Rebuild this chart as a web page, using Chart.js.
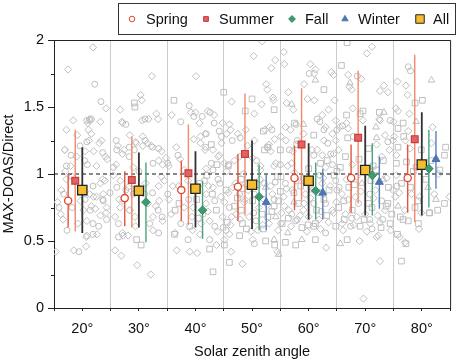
<!DOCTYPE html>
<html>
<head>
<meta charset="utf-8">
<script src="https://cdn.jsdelivr.net/npm/chart.js@4.4.1/dist/chart.umd.min.js"></script>
<style>
html, body { margin: 0; padding: 0; background: #fff; }
canvas { display: block; }
</style>
</head>
<body>
<canvas id="chart" width="458" height="363"></canvas>
<script>
// solar zenith angle bins
const bins = [20, 30, 40, 50, 60, 70, 80];
const yTickVals = [0, 0.5, 1, 1.5, 2];

// ratio per season: mean, low end, high end of the bar (null = no data)
const springMean = [0.80, 0.82, 0.88, 0.905, 0.97, 0.97, 0.97];
const springLow  = [0.60, 0.61, 0.65, 0.65, 0.73, 0.71, 0.71];
const springHigh = [1.00, 1.02, 1.10, 1.15, 1.21, 1.22, 1.22];

const summerMean = [0.95, 0.955, 1.005, 1.15, 1.22, 1.27, 1.26];
const summerLow  = [0.57, 0.60, 0.62, 0.69, 0.80, 0.78, 0.64];
const summerHigh = [1.33, 1.28, 1.37, 1.60, 1.64, 1.77, 1.89];

const fallMean = [null, 0.79, 0.73, 0.83, 0.875, 0.99, 1.04];
const fallLow  = [null, 0.49, 0.515, 0.58, 0.66, 0.69, 0.75];
const fallHigh = [null, 1.085, 0.945, 1.07, 1.085, 1.23, 1.33];

const winterMean = [null, null, null, 0.79, 0.86, 0.94, 1.11];
const winterLow  = [null, null, null, 0.58, 0.66, 0.74, 0.89];
const winterHigh = [null, null, null, 1.00, 1.04, 1.13, 1.32];

const allMean = [0.88, 0.875, 0.89, 0.92, 0.95, 1.03, 1.07];
const allLow  = [0.56, 0.60, 0.60, 0.59, 0.66, 0.69, 0.69];
const allHigh = [1.20, 1.16, 1.17, 1.25, 1.23, 1.36, 1.46];

// individual points in the background [sza, ratio]
const springPts = [[22.2,1.67],[23.3,1.54],[37.4,1.39],[20.8,1.40],[21.6,1.41],[27.7,1.37],[31.1,1.41],[20.8,1.24],[19.6,1.21],[18.0,1.14],[20.4,1.10],[23.6,1.16],[20.9,1.07],[26.1,1.18],[28.3,1.20],[31.1,1.25],[29.2,1.18],[33.5,1.19],[25.5,1.05],[32.5,1.08],[35.1,1.08],[36.9,1.14],
  [60.1,1.75],[61.5,1.41],[38.9,1.51],[39.7,1.43],[41.2,1.43],[42.6,1.46],[43.3,1.38],[44.2,1.32],[41.9,1.30],[47.9,1.27],[53.5,1.33],[57.8,1.37],[41.8,1.20],[46.5,1.25],[45.9,1.07],[52.7,1.20],[56.6,1.18],[60.9,1.14],[43.1,1.03],[50.8,1.10],[55.0,1.07],
  [68.6,1.73],[77.6,1.80],[78.0,1.77],[62.0,1.39],[74.4,1.40],[62.7,1.33],[66.0,1.36],[67.9,1.28],[63.4,1.23],[74.0,1.24],[63.9,1.15],[64.2,1.07],
  [15.9,0.75],[16.7,0.85],[17.3,0.58],[18.2,0.75],[19.4,0.42],[21.9,0.55],[20.5,0.81],[21.4,0.73],[22.9,0.61],[23.7,0.80],[24.3,0.66],[24.9,0.86],[26.4,0.53],[26.4,0.63],[26.1,0.90],[29.0,0.85],[31.0,0.85],[31.9,0.63],[33.4,0.73],[35.1,0.85],[37.4,0.63],
  [38.7,0.51],[42.5,0.51],[45.4,0.58],[50.4,0.48],[63.0,0.56],[67.4,0.61],[71.2,0.59],
  [39.6,0.90],[44.3,0.93],[47.8,0.85],[55.9,0.93],[41.3,0.70],[46.0,0.75],[50.7,0.65],[57.7,0.65],[43.4,0.80],[50.4,0.85],[60.9,0.78],
  [64.8,0.95],[72.9,0.80],[63.0,0.78],[68.8,0.78],
  [42.8,1.08],[44.0,0.96],[52.2,0.93],[53.9,0.81],[58.0,1.25],[44.6,1.28],[58.0,0.66],[43.4,0.61],
  [21.3,1.40],[17.2,1.06],[21.9,0.91],[23.6,0.81],[21.9,0.63],[27.7,0.88],[32.4,0.86],[34.1,0.68],[38.8,0.81],[33.5,0.56],[32.4,1.20],[28.3,1.13],[26.0,1.25],
  [65.0,0.88],[70.8,0.66],[65.0,1.33],[30.0,1.02],[48.5,1.00],[62.0,0.99],
  [41.6,0.95],[44.9,0.60],[48.4,0.89],[50.3,0.71],[54.1,0.94],[57.0,0.70],[59.0,0.97],[62.2,0.72],[65.4,0.90],[67.6,0.67],[70.8,0.85],[73.1,0.66],[75.6,0.91]];

const summerPts = [[29.2,1.53],[29.3,1.50],[36.2,1.55],
  [50.0,1.56],[53.9,1.48],[48.8,1.47],[45.0,1.61],[52.0,1.32],[57.5,1.38],[60.9,1.29],[42.8,1.22],[52.2,1.18],[55.0,1.18],[57.9,1.22],[43.8,1.07],
  [66.8,1.98],[65.8,1.81],[62.7,1.63],[78.8,1.53],[69.6,1.47],[72.5,1.46],[66.7,1.44],[76.7,1.38],[75.8,1.34],[76.8,1.28],[66.9,1.27],[70.6,1.19],[75.8,1.20],[79.9,1.18],[66.5,1.13],[73.2,1.10],[84.0,1.14],
  [29.6,0.51],[30.4,0.47],[36.3,0.55],[37.1,0.78],
  [39.0,0.61],[42.5,0.44],[43.1,0.27],[45.1,0.47],[46.0,0.34],[47.8,0.54],[52.4,0.50],[54.0,0.47],[55.9,0.49],[57.7,0.47],[61.2,0.51],
  [66.8,0.51],[75.7,0.55],[76.4,0.35],[64.8,0.61],[74.4,0.63],[77.6,0.65],[81.4,0.71],
  [40.8,0.93],[45.4,0.88],[50.1,0.80],[54.7,0.80],[58.2,0.78],[61.4,0.73],[43.7,0.73],[48.3,0.63],[51.8,0.70],[55.3,0.63],[58.8,0.60],[61.2,0.63],[40.2,0.81],[46.9,0.76],[53.9,0.76],
  [63.6,0.88],[67.1,0.90],[70.6,0.78],[74.1,0.90],[76.4,0.93],[79.3,0.80],[84.0,0.78],[65.3,0.75],[67.7,0.73],[71.2,0.75],[74.7,0.70],[78.8,0.75],[82.8,0.73],
  [45.8,1.06],[48.1,0.96],[55.1,0.98],[57.4,0.86],[62.7,0.81],[63.3,1.10],[52.8,1.20],[52.8,0.68],[60.9,0.61],[48.1,0.73],[36.4,0.73],
  [65.6,1.05],[66.2,0.80],[69.1,0.61],[73.7,0.76],[75.5,1.08],[69.1,1.45],[76.7,0.66],[80.7,0.96],[81.3,0.71],[80.1,1.55],[84.2,1.20],[77.2,0.48],
  [42.0,0.99],[54.5,0.98],[60.0,1.04],[65.0,1.02],[72.0,1.03],[78.5,1.02],
  [40.5,0.67],[43.0,0.85],[45.6,0.64],[47.4,0.82],[49.0,0.59],[50.9,0.92],[52.0,0.59],[53.5,0.72],[55.0,0.87],[56.4,0.67],[58.6,0.91],[59.9,0.62],[61.9,0.86],[63.2,0.69],[64.5,0.99],[66.3,0.66],[68.1,0.92],[69.8,0.66],[71.0,0.95],[72.8,0.60],[74.0,0.78],[76.2,0.68],[78.0,0.90],[79.4,0.63],
  [62.1,1.08],[68.9,1.11],[71.4,1.06],[77.3,1.09],[79.0,1.05],[81.6,1.10],[83.2,1.03]];

const fallPts = [[21.9,1.945],[17.5,1.78],[32.3,1.73],[24.2,1.49],[26.7,1.48],[30.3,1.59],[30.5,1.55],[35.8,1.44],[17.2,1.33],[21.3,1.41],[21.0,1.38],[23.2,1.39],[27.0,1.39],[31.7,1.41],[33.1,1.45],[33.4,1.41],[21.1,1.33],[19.1,1.29],[21.2,1.25],[23.4,1.25],[16.9,1.18],[19.0,1.13],[20.5,1.17],[22.0,1.17],[24.1,1.13],[24.4,1.11],[17.9,1.06],[26.3,1.21],[28.4,1.29],[29.4,1.24],[30.7,1.28],[31.5,1.23],[27.4,1.18],[27.1,1.15],[30.7,1.21],[32.2,1.21],[34.0,1.17],[34.8,1.12],[26.0,1.07],[29.0,1.05],[34.2,1.07],[36.6,1.20],[37.3,1.11],
  [51.8,1.99],[50.3,1.88],[55.6,1.91],[54.1,1.85],[53.4,1.79],[55.7,1.82],[40.1,1.73],[52.5,1.67],[52.7,1.63],[56.4,1.61],[46.4,1.54],[51.7,1.52],[53.7,1.57],[53.8,1.55],[56.1,1.53],[50.4,1.45],[57.3,1.48],[59.2,1.67],[60.3,1.82],[61.2,1.78],[61.0,1.75],[59.8,1.56],[61.0,1.55],[39.2,1.46],[40.0,1.46],[42.2,1.47],[40.7,1.38],[43.3,1.44],[44.8,1.38],[46.0,1.37],[45.5,1.30],[40.9,1.28],[39.7,1.26],[46.2,1.33],[48.9,1.33],[52.3,1.33],[53.1,1.35],[54.0,1.26],[55.9,1.35],[56.8,1.33],[59.1,1.30],[40.9,1.23],[43.1,1.18],[44.6,1.23],[44.2,1.14],[45.1,1.08],[49.2,1.21],[53.0,1.22],[53.3,1.17],[56.0,1.25],[57.2,1.17],[60.6,1.18],[47.8,1.13],[41.9,1.04],[50.1,1.12],[51.5,1.06],[54.2,1.08],[57.0,1.08],
  [70.3,1.90],[71.2,1.95],[64.0,1.76],[64.4,1.74],[67.0,1.74],[69.3,1.71],[75.7,1.69],[77.2,1.66],[67.2,1.65],[67.6,1.63],[73.3,1.66],[72.6,1.62],[74.0,1.61],[77.5,1.59],[64.6,1.55],[67.8,1.49],[75.4,1.49],[75.8,1.47],[63.5,1.48],[62.4,1.44],[64.8,1.40],[69.6,1.40],[72.5,1.41],[75.0,1.39],[63.0,1.35],[65.5,1.35],[64.2,1.30],[67.0,1.34],[77.6,1.32],[73.5,1.29],[75.1,1.28],[77.1,1.25],[62.7,1.25],[64.8,1.25],[72.0,1.22],[74.3,1.18],[77.9,1.19],[81.7,1.23],[62.4,1.14],[65.3,1.18],[72.9,1.13],[75.5,1.14],[63.0,1.05],[67.7,1.07],
  [15.6,0.79],[15.3,0.42],[16.3,0.88],[16.2,0.70],[16.6,0.66],[17.2,0.96],[18.2,0.98],[18.5,0.43],[20.7,0.46],[19.2,0.63],[20.8,0.54],[22.6,0.55],[19.7,0.80],[21.3,0.85],[22.0,0.83],[22.3,0.74],[23.2,0.69],[23.7,0.85],[23.2,0.93],[24.0,0.95],[24.3,0.75],[20.8,0.65],[20.2,0.73],[25.8,0.43],[26.9,0.39],[27.2,0.54],[28.1,0.54],[25.8,0.68],[26.7,0.75],[27.2,0.80],[26.7,0.95],[29.7,0.32],[32.1,0.25],[28.1,0.90],[28.4,0.73],[29.3,0.68],[31.6,0.78],[32.5,0.68],[32.5,0.58],[33.6,0.80],[34.2,0.65],[34.5,0.95],[35.7,0.70],[36.7,0.43],[38.0,0.75],[36.0,0.91],
  [39.0,0.42],[40.3,0.41],[40.8,0.55],[43.7,0.47],[45.1,0.51],[46.3,0.42],[48.3,0.33],[46.0,0.55],[50.1,0.51],[54.5,0.42],
  [63.1,0.45],[69.0,0.50],[69.7,0.07],[72.3,0.54],[72.6,0.35],[77.0,0.49],[79.5,0.59],[62.1,0.59],[65.9,0.63],[68.5,0.68],[70.9,0.63],[72.6,0.64],
  [38.7,0.95],[41.9,0.85],[43.1,0.90],[46.6,0.90],[48.9,0.93],[51.2,0.75],[53.6,0.85],[57.1,0.88],[59.4,0.85],[39.6,0.75],[42.5,0.65],[44.8,0.68],[47.2,0.70],[49.5,0.68],[53.0,0.63],[56.5,0.73],[60.0,0.68],[41.9,0.78],[45.1,0.79],[48.6,0.79],[52.1,0.81],[55.6,0.83],[59.1,0.73],
  [62.4,0.93],[65.9,0.85],[68.3,0.83],[71.8,0.88],[75.3,0.83],[78.2,0.85],[82.2,0.85],[64.2,0.73],[66.5,0.70],[70.0,0.70],[73.5,0.73],[77.0,0.73],[79.9,0.71],[84.9,0.83],
  [41.7,1.18],[44.0,1.13],[46.9,1.10],[42.3,0.91],[45.8,0.86],[48.7,0.81],[53.9,1.06],[56.3,1.06],[55.7,0.76],[59.2,0.78],[63.8,0.91],[61.5,1.18],[55.1,1.28],[50.4,1.25],[47.5,1.30],[41.7,1.30],[55.1,0.63],[46.4,0.68],[51.0,0.58],
  [16.9,1.18],[18.4,1.40],[21.6,1.30],[23.0,1.23],[22.5,1.06],[23.6,0.96],[22.5,0.83],[21.6,0.76],[24.2,0.71],[20.7,0.53],[26.5,0.81],[28.3,0.73],[31.2,0.93],[33.5,0.91],[33.0,0.76],[35.3,0.81],[37.0,0.91],[39.4,0.68],[36.4,0.56],[29.4,0.61],[27.1,0.56],[33.5,1.10],[35.3,1.06],[29.5,1.23],[30.6,1.40],[27.1,1.38],
  [64.4,1.15],[66.7,0.96],[64.4,0.71],[72.0,0.53],[74.9,0.88],[74.9,1.25],[72.6,1.40],[66.7,1.38],[79.6,0.83],[77.8,1.45],[81.9,1.35],[76.1,0.53],
  [17.0,1.02],[25.5,0.99],[34.0,0.98],[38.0,1.03],[45.5,1.02],[51.5,1.03],[57.5,1.01],[68.5,0.98],[75.5,0.99],[83.0,1.00],
  [39.5,0.58],[41.0,0.63],[42.2,0.72],[43.9,0.57],[44.5,0.83],[46.2,0.62],[47.1,0.93],[47.9,0.66],[49.3,0.88],[49.8,0.57],[51.4,0.96],[51.9,0.62],[52.7,0.77],[53.3,0.91],[54.6,0.58],[55.2,0.71],[56.1,0.89],[56.9,0.61],[57.8,0.95],[58.5,0.69],[59.7,0.57],[60.3,0.82],[61.8,0.66],[62.6,0.97],[63.5,0.64],[64.9,0.79],[66.1,0.58],[67.0,0.81],[68.0,0.62],[69.2,0.87],[70.3,0.57],[71.5,0.82],[72.2,0.69],[73.8,0.97],[74.5,0.58],[76.0,0.86]];

const winterPts = [[57.0,1.52],[61.2,1.70],[59.1,1.37],[81.7,1.70],[67.3,1.68],[73.3,1.46],[79.0,1.39],[71.9,1.35],[72.0,1.27],
  [53.9,0.51],[54.7,0.40],[58.8,0.51],[65.6,0.48],[52.4,0.90],[60.6,0.90],[54.2,0.68],[57.4,0.79],[69.4,0.93],[81.1,0.90],[75.8,0.76],
  [60.6,0.88],[56.3,0.56],[73.2,0.96],[82.5,0.81]];

// styling
const FONT = "'Liberation Sans', Arial, Helvetica, sans-serif";
const GREY = '#bfbfbf';
const offsets = { spring: -2.5, summer: -1.25, all: 0, fall: 1.25, winter: 2.5 };

Chart.defaults.font.family = FONT;
Chart.defaults.color = '#111';

function toXY(pts) {
  return pts.map(p => ({ x: p[0], y: p[1] }));
}

function barData(lo, hi, off) {
  const d = [];
  bins.forEach((b, i) => {
    if (lo[i] == null) return;
    d.push({ x: b + off, y: lo[i] }, { x: b + off, y: hi[i] }, { x: b + off, y: null });
  });
  return d;
}

function meanData(m, off) {
  const d = [];
  bins.forEach((b, i) => {
    if (m[i] != null) d.push({ x: b + off, y: m[i] });
  });
  return d;
}

function bgSet(pts, style, r) {
  return {
    type: 'scatter', data: toXY(pts), pointStyle: style, pointRadius: r,
    borderColor: GREY, backgroundColor: 'rgba(0,0,0,0)', borderWidth: 1, order: 20
  };
}

function errSet(lo, hi, off, color, w) {
  return {
    type: 'line', data: barData(lo, hi, off), borderColor: color, borderWidth: w,
    pointRadius: 0, spanGaps: false, fill: false, order: 10
  };
}

function markSet(m, off, style, r, fillC, lineC, bw) {
  return {
    type: 'scatter', data: meanData(m, off), pointStyle: style, pointRadius: r,
    backgroundColor: fillC, borderColor: lineC, borderWidth: bw, order: 1
  };
}

const legendItems = [
  { text: 'Spring', mx: 132, tx: 146, style: 'circle', r: 2.8, fill: '#fff', line: '#e0452f', w: 1.1 },
  { text: 'Summer', mx: 206, tx: 219, style: 'rect', r: 3.4, fill: '#e26161', line: '#c63d3d', w: 1 },
  { text: 'Fall', mx: 292, tx: 305, style: 'rectRot', r: 3.4, fill: '#3f9a71', line: '#2f8a61', w: 1 },
  { text: 'Winter', mx: 345, tx: 358, style: 'triangle', r: 3.6, fill: '#4d75b6', line: '#4d75b6', w: 1 },
  { text: 'All', mx: 420, tx: 433, style: 'rect', r: 6, fill: '#f5bd2e', line: '#222', w: 1.2 }
];

const decorPlugin = {
  id: 'decor',
  afterDraw(chart) {
    const ctx = chart.ctx;
    const a = chart.chartArea;
    const ys = chart.scales.y;
    ctx.save();
    // top and right frame lines
    ctx.strokeStyle = '#222';
    ctx.lineWidth = 1;
    ctx.beginPath();
    ctx.moveTo(a.left, a.top + 0.5);
    ctx.lineTo(a.right + 0.5, a.top + 0.5);
    ctx.lineTo(a.right + 0.5, a.bottom);
    ctx.stroke();
    // minor y ticks
    ctx.beginPath();
    [0.25, 0.75, 1.25, 1.75].forEach(v => {
      const py = Math.round(ys.getPixelForValue(v)) + 0.5;
      ctx.moveTo(a.left - 3, py);
      ctx.lineTo(a.left, py);
    });
    ctx.stroke();
    // legend box
    ctx.strokeStyle = '#333';
    ctx.strokeRect(118.5, 3.5, 337, 31);
    ctx.font = '14.5px ' + FONT;
    ctx.textBaseline = 'middle';
    ctx.textAlign = 'left';
    legendItems.forEach(it => {
      ctx.fillStyle = it.fill;
      ctx.strokeStyle = it.line;
      Chart.helpers.drawPoint(ctx, { pointStyle: it.style, radius: it.r, borderWidth: it.w, rotation: 0 }, it.mx, 19);
      ctx.fillStyle = '#111';
      ctx.fillText(it.text, it.tx, 19.5);
    });
    ctx.restore();
  }
};

new Chart(document.getElementById('chart'), {
  type: 'scatter',
  data: {
    datasets: [
      bgSet(fallPts, 'rectRot', 3.6),
      bgSet(springPts, 'circle', 3),
      bgSet(summerPts, 'rect', 4),
      bgSet(winterPts, 'triangle', 3.8),
      {
        type: 'line', data: [{ x: 15, y: 1 }, { x: 85, y: 1 }], borderColor: '#111',
        borderWidth: 1, borderDash: [4, 3], pointRadius: 0, fill: false, order: 15
      },
      errSet(springLow, springHigh, offsets.spring, '#e2573b', 1.4),
      errSet(summerLow, summerHigh, offsets.summer, '#f2896a', 1.4),
      errSet(allLow, allHigh, offsets.all, '#333333', 1.8),
      errSet(fallLow, fallHigh, offsets.fall, '#4aa57b', 1.4),
      errSet(winterLow, winterHigh, offsets.winter, '#5b80bb', 1.4),
      markSet(springMean, offsets.spring, 'circle', 3.6, '#ffffff', '#e0452f', 1.3),
      markSet(summerMean, offsets.summer, 'rect', 4.8, '#e26161', '#c63d3d', 1.2),
      markSet(fallMean, offsets.fall, 'rectRot', 4.3, '#3f9a71', '#2f8a61', 1),
      markSet(winterMean, offsets.winter, 'triangle', 4.6, '#4d75b6', '#4d75b6', 1),
      markSet(allMean, offsets.all, 'rect', 6.6, '#f5bd2e', '#222222', 1.3)
    ]
  },
  options: {
    responsive: false,
    animation: false,
    events: [],
    layout: { padding: { top: 40, right: 3, left: 0, bottom: 0 } },
    plugins: { legend: { display: false }, tooltip: { enabled: false } },
    scales: {
      x: {
        type: 'linear', min: 15, max: 85, offset: false,
        afterFit: s => { s.height = 55; s.paddingLeft = 0; s.paddingRight = 0; },
        ticks: {
          stepSize: 5, autoSkip: false, maxRotation: 0, padding: 9,
          font: { size: 14.5 }, color: '#111',
          callback: v => (v % 10 === 0 ? v + '°' : '')
        },
        grid: {
          color: c => ([25, 35, 45, 55, 65, 75].includes(c.tick && c.tick.value) ? '#cccccc' : 'rgba(0,0,0,0)'),
          lineWidth: 1, drawTicks: true, tickLength: 3, tickColor: '#222'
        },
        border: { color: '#222', width: 1 },
        title: { display: true, text: 'Solar zenith angle', font: { size: 14.5 }, color: '#111', padding: { top: 0, bottom: 2 } }
      },
      y: {
        type: 'linear', min: 0, max: 2,
        afterFit: s => { s.width = 54; },
        afterBuildTicks: s => { s.ticks = yTickVals.map(v => ({ value: v })); },
        ticks: { padding: 4, font: { size: 14.5 }, color: '#111', callback: v => String(v) },
        grid: { color: 'rgba(0,0,0,0)', drawTicks: true, tickLength: 6, tickColor: '#222' },
        border: { color: '#222', width: 1 },
        title: { display: true, text: 'MAX-DOAS/Direct', font: { size: 14.5 }, color: '#111', padding: 0 }
      }
    }
  },
  plugins: [decorPlugin]
});
</script>
</body>
</html>
